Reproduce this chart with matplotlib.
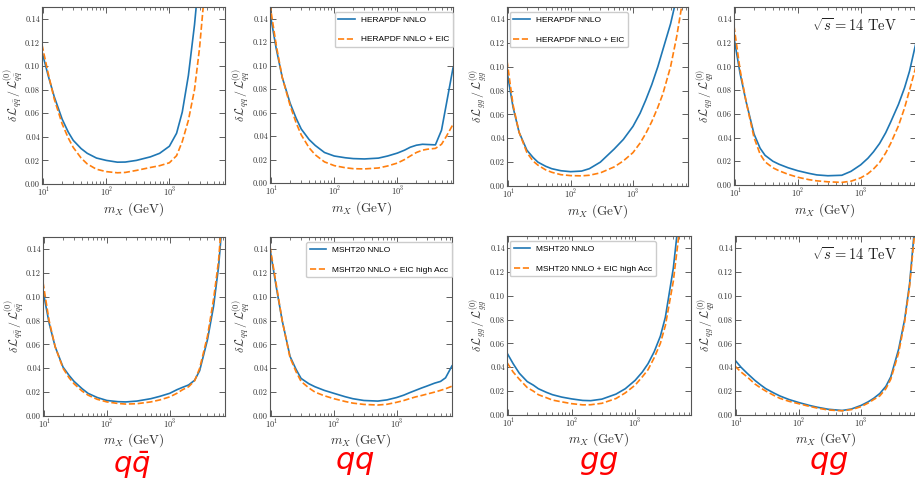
import matplotlib
matplotlib.use("Agg")
import matplotlib.pyplot as plt
import numpy as np

plt.rcParams['font.family'] = 'serif'
plt.rcParams['font.serif'] = ['cmr10', 'DejaVu Serif']
plt.rcParams['mathtext.fontset'] = 'cm'
plt.rcParams['axes.formatter.use_mathtext'] = True
plt.rcParams['axes.unicode_minus'] = False

# invariant mass grid (GeV)
m_x = [9.6, 12, 15, 20, 25, 30, 40, 50, 70, 100, 150, 200, 300, 500, 700,
       1000, 1300, 1600, 2000, 2500, 3000, 4000, 5000, 6000, 7600]

# HERAPDF NNLO vs HERAPDF NNLO + EIC
hera_qqbar = [0.112, 0.092, 0.074, 0.055, 0.044, 0.037, 0.030, 0.026, 0.022, 0.020, 0.0185, 0.0186, 0.0200,
              0.0230, 0.0260, 0.032, 0.043, 0.061, 0.092, 0.135, 0.18, 0.28, 0.40, 0.50, 0.70]
hera_qqbar_eic = [0.118, 0.094, 0.072, 0.051, 0.039, 0.031, 0.022, 0.017, 0.0125, 0.0105, 0.0095, 0.0098, 0.0115,
                  0.0140, 0.0155, 0.018, 0.024, 0.036, 0.054, 0.080, 0.115, 0.19, 0.28, 0.36, 0.50]
hera_qq = [0.145, 0.115, 0.090, 0.068, 0.055, 0.046, 0.037, 0.032, 0.026, 0.023, 0.0215, 0.0208, 0.0205,
           0.0212, 0.0230, 0.0255, 0.028, 0.0305, 0.0322, 0.0330, 0.0328, 0.0325, 0.045, 0.068, 0.098]
hera_qq_eic = [0.152, 0.118, 0.090, 0.066, 0.051, 0.041, 0.030, 0.024, 0.018, 0.0148, 0.0130, 0.0122, 0.0120,
               0.0128, 0.0145, 0.0170, 0.0200, 0.0230, 0.0260, 0.0280, 0.0288, 0.0295, 0.033, 0.040, 0.050]
hera_gg = [0.096, 0.066, 0.045, 0.030, 0.024, 0.020, 0.0165, 0.0145, 0.0128, 0.0120, 0.0125, 0.0145, 0.020,
           0.031, 0.039, 0.050, 0.061, 0.072, 0.085, 0.100, 0.114, 0.136, 0.158, 0.18, 0.21]
hera_gg_eic = [0.105, 0.068, 0.045, 0.028, 0.021, 0.0175, 0.0135, 0.0115, 0.0095, 0.0087, 0.0085, 0.0090, 0.0110,
               0.016, 0.021, 0.028, 0.036, 0.044, 0.054, 0.066, 0.077, 0.100, 0.125, 0.150, 0.19]
hera_qg = [0.124, 0.094, 0.070, 0.043, 0.031, 0.025, 0.020, 0.0175, 0.0145, 0.0120, 0.0098, 0.0085, 0.0078,
           0.0082, 0.0115, 0.0170, 0.0225, 0.028, 0.035, 0.044, 0.053, 0.068, 0.082, 0.096, 0.120]
hera_qg_eic = [0.134, 0.097, 0.070, 0.040, 0.026, 0.0195, 0.0145, 0.0120, 0.0090, 0.0065, 0.0045, 0.0035, 0.0027,
               0.0022, 0.0032, 0.0060, 0.0095, 0.0135, 0.019, 0.027, 0.035, 0.050, 0.065, 0.080, 0.100]

# MSHT20 NNLO vs MSHT20 NNLO + EIC high Acc
msht_qqbar = [0.105, 0.078, 0.058, 0.041, 0.034, 0.029, 0.023, 0.019, 0.0155, 0.013, 0.012, 0.0118, 0.0125,
              0.0145, 0.0165, 0.019, 0.022, 0.024, 0.026, 0.030, 0.038, 0.064, 0.092, 0.125, 0.19]
msht_qqbar_eic = [0.112, 0.080, 0.058, 0.040, 0.032, 0.027, 0.021, 0.0175, 0.014, 0.0118, 0.0105, 0.0100, 0.0103,
                  0.0118, 0.0135, 0.016, 0.019, 0.022, 0.0245, 0.0296, 0.040, 0.067, 0.098, 0.130, 0.20]
msht_qq = [0.140, 0.109, 0.080, 0.050, 0.039, 0.0315, 0.027, 0.0245, 0.0215, 0.019, 0.0162, 0.0145, 0.0130,
           0.0125, 0.0135, 0.0155, 0.0175, 0.0195, 0.0215, 0.0235, 0.025, 0.0275, 0.029, 0.032, 0.042]
msht_qq_eic = [0.142, 0.111, 0.080, 0.049, 0.037, 0.029, 0.0235, 0.020, 0.017, 0.0145, 0.0122, 0.0108, 0.0097,
               0.0092, 0.0098, 0.0115, 0.0130, 0.0145, 0.016, 0.0172, 0.0183, 0.020, 0.0215, 0.0228, 0.025]
msht_gg = [0.052, 0.043, 0.035, 0.028, 0.025, 0.022, 0.019, 0.017, 0.015, 0.0135, 0.0122, 0.0120, 0.0133,
           0.0175, 0.022, 0.029, 0.036, 0.043, 0.053, 0.066, 0.082, 0.123, 0.17, 0.22, 0.30]
msht_gg_eic = [0.044, 0.036, 0.030, 0.023, 0.020, 0.017, 0.0145, 0.0125, 0.011, 0.0095, 0.0085, 0.0086, 0.0098,
               0.0138, 0.0185, 0.025, 0.032, 0.038, 0.048, 0.060, 0.075, 0.112, 0.155, 0.20, 0.28]
msht_qg = [0.046, 0.040, 0.035, 0.029, 0.025, 0.022, 0.0185, 0.016, 0.013, 0.0105, 0.0080, 0.0065, 0.0048,
           0.0038, 0.0050, 0.0080, 0.011, 0.014, 0.018, 0.024, 0.032, 0.055, 0.080, 0.110, 0.17]
msht_qg_eic = [0.041, 0.036, 0.032, 0.026, 0.0225, 0.020, 0.0165, 0.014, 0.0115, 0.0095, 0.0072, 0.0058, 0.0042,
               0.0035, 0.0045, 0.0070, 0.010, 0.013, 0.016, 0.022, 0.030, 0.052, 0.078, 0.108, 0.165]

channels = [r'q\bar{q}', 'qq', 'gg', 'qg']
channel_labels = [r'$q\bar{q}$', r'$qq$', r'$gg$', r'$qg$']
hera_labels = ['HERAPDF NNLO', 'HERAPDF NNLO + EIC']
msht_labels = ['MSHT20 NNLO', 'MSHT20 NNLO + EIC high Acc']
energy_text = r'$\sqrt{s} = 14\ \mathrm{TeV}$'

W, H = 915, 480
fig = plt.figure(figsize=(W / 100, H / 100), dpi=100)

# panel boxes in pixels: x0, x1, y_top, y_bottom
boxes = [
    [(42, 225, 7, 184), (270, 453, 7, 183), (507, 688, 7, 186), (734, 916, 7, 185)],
    [(43, 225, 237, 416), (270, 452, 237, 416), (507, 691, 236, 415), (735, 916, 236, 415)],
]
rows = [
    [(hera_qqbar, hera_qqbar_eic), (hera_qq, hera_qq_eic), (hera_gg, hera_gg_eic), (hera_qg, hera_qg_eic)],
    [(msht_qqbar, msht_qqbar_eic), (msht_qq, msht_qq_eic), (msht_gg, msht_gg_eic), (msht_qg, msht_qg_eic)],
]
row_labels = [hera_labels, msht_labels]
legend_font = {'family': 'Liberation Sans', 'size': 6}
leg_kw = dict(prop=legend_font, handlelength=2.0, labelspacing=1.45, handletextpad=0.7,
              borderpad=0.45, borderaxespad=0, framealpha=1)

for r in range(2):
    for c in range(4):
        x0, x1, yt, yb = boxes[r][c]
        ax = fig.add_axes([x0 / W, 1 - yb / H, (x1 - x0) / W, (yb - yt) / H])
        base, eic = rows[r][c]
        ax.plot(m_x, base, color='#1f77b4', lw=1.2, label=row_labels[r][0])
        ax.plot(m_x, eic, color='#ff7f0e', lw=1.2, ls='--', label=row_labels[r][1])
        ax.set_xscale('log')
        ax.set_xlim(9.6, 7600)
        ax.set_ylim(0, 0.15)
        ax.set_yticks(np.arange(0, 0.141, 0.02))
        ax.yaxis.set_major_formatter(matplotlib.ticker.FormatStrFormatter('%.2f'))
        ax.tick_params(which='both', direction='in', top=True, right=True, pad=1.5,
                       labelsize=6, color='#444444', labelcolor='#333333')
        ax.tick_params(which='major', length=4, width=0.6)
        ax.tick_params(which='minor', length=2.5, width=0.5)
        for s in ax.spines.values():
            s.set_color('#555555')
            s.set_linewidth(0.8)
        ch = channels[c]
        ax.set_ylabel(r'$\delta\,\mathcal{L}_{%s}\,/\,\mathcal{L}_{%s}^{(0)}$' % (ch, ch),
                      fontsize=8.5, color='#333333', labelpad=-0.5)
        ax.set_xlabel(r'$m_X$ (GeV)', fontsize=9.5, color='#333333', labelpad=1 if r == 0 else 0.3)
        if c == 1:
            ax.legend(loc='upper right', bbox_to_anchor=(1.0, 0.972), **leg_kw)
        if c == 2:
            ax.legend(loc='upper left', bbox_to_anchor=(0.015, 0.972), **leg_kw)
        if c == 3:
            ax.text(0.896, 0.895, energy_text, transform=ax.transAxes, ha='right', va='center',
                    fontsize=10.5, color='#222222')

# channel names under the bottom row
label_x = [132, 355, 599, 829]
label_base = [473, 469, 469, 469]
label_size = [21, 22, 22, 22]
for lx, ly, fs, lab in zip(label_x, label_base, label_size, channel_labels):
    fig.text(lx / W, 1 - ly / H, lab, ha='center', va='baseline', fontsize=fs,
             color='#ff0000', math_fontfamily='dejavusans')

fig.savefig('out.png', dpi=100)
